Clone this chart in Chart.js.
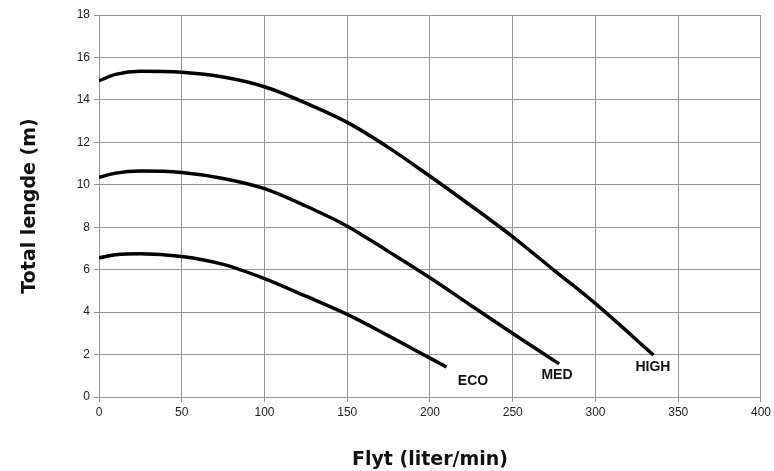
<!DOCTYPE html>
<html>
<head>
<meta charset="utf-8">
<script src="https://cdn.jsdelivr.net/npm/chart.js@4/dist/chart.umd.min.js"></script>
<style>
  html, body { margin: 0; padding: 0; background: #fff; }
  #wrap { width: 774px; height: 471px; }
</style>
</head>
<body>
<div id="wrap"><canvas id="pump-chart"></canvas></div>
<script>
// pump curves
const highFlow = [0, 10, 25, 50, 75, 100, 125, 150, 175, 200, 225, 250, 275, 300, 335];
const highHead = [14.9, 15.2, 15.35, 15.3, 15.08, 14.62, 13.85, 12.94, 11.75, 10.4, 9.0, 7.55, 5.97, 4.4, 1.98];

const medFlow = [0, 10, 25, 50, 75, 100, 125, 150, 175, 200, 225, 250, 278];
const medHead = [10.35, 10.55, 10.65, 10.58, 10.3, 9.82, 9.0, 8.05, 6.85, 5.62, 4.3, 2.99, 1.56];

const ecoFlow = [0, 10, 25, 50, 75, 100, 125, 150, 175, 200, 210];
const ecoHead = [6.56, 6.7, 6.75, 6.62, 6.25, 5.58, 4.75, 3.89, 2.88, 1.83, 1.41];

const seriesNames = ["HIGH", "MED", "ECO"];
// where the name of each curve sits (flow, head)
const nameSpots = [[334.7, 1.42], [276.7, 1.04], [226, 0.75]];

function toPoints(xs, ys) {
  return xs.map((x, i) => ({ x: x, y: ys[i] }));
}

const curveNames = {
  id: 'curveNames',
  afterDatasetsDraw(chart) {
    const { ctx, scales: { x, y } } = chart;
    ctx.save();
    ctx.font = 'bold 14px "Liberation Sans", Arial, sans-serif';
    ctx.fillStyle = '#111';
    ctx.textAlign = 'center';
    ctx.textBaseline = 'middle';
    seriesNames.forEach((name, i) => {
      ctx.fillText(name, x.getPixelForValue(nameSpots[i][0]), y.getPixelForValue(nameSpots[i][1]));
    });
    ctx.restore();
  }
};

const gridColor = '#959595';

new Chart(document.getElementById("pump-chart"), {
  type: 'line',
  data: {
    datasets: [
      { label: seriesNames[0], data: toPoints(highFlow, highHead) },
      { label: seriesNames[1], data: toPoints(medFlow, medHead) },
      { label: seriesNames[2], data: toPoints(ecoFlow, ecoHead) }
    ]
  },
  options: {
    responsive: true,
    maintainAspectRatio: false,
    animation: false,
    layout: { padding: { top: 15, right: 13, left: 0, bottom: 0 } },
    elements: {
      line: { borderColor: '#000', borderWidth: 3.5, cubicInterpolationMode: 'monotone', fill: false, borderCapStyle: 'butt' },
      point: { radius: 0, hoverRadius: 0 }
    },
    plugins: {
      legend: { display: false },
      tooltip: { enabled: false }
    },
    scales: {
      x: {
        type: 'linear',
        min: 0,
        max: 400,
        ticks: { stepSize: 50, color: '#222', padding: 3, maxRotation: 0,
                 font: { family: '"Liberation Sans", Arial, sans-serif', size: 12 } },
        grid: { color: gridColor, lineWidth: 1, tickLength: 5 },
        border: { color: gridColor },
        title: {
          display: true,
          text: 'Flyt (liter/min)',
          color: '#111',
          padding: { top: 0, bottom: 0 },
          font: { family: '"DejaVu Sans", sans-serif', size: 19, weight: 'bold' }
        },
        afterFit(scale) { scale.height = 74; }
      },
      y: {
        min: 0,
        max: 18,
        ticks: { stepSize: 2, color: '#222', padding: 4,
                 font: { family: '"Liberation Sans", Arial, sans-serif', size: 12 } },
        grid: { color: gridColor, lineWidth: 1, tickLength: 5 },
        border: { color: gridColor },
        title: {
          display: true,
          text: 'Total lengde (m)',
          color: '#111',
          padding: { top: 19, bottom: 0 },
          font: { family: '"DejaVu Sans", sans-serif', size: 19, weight: 'bold' }
        },
        afterFit(scale) { scale.width = 99; }
      }
    }
  },
  plugins: [curveNames]
});
</script>
</body>
</html>
